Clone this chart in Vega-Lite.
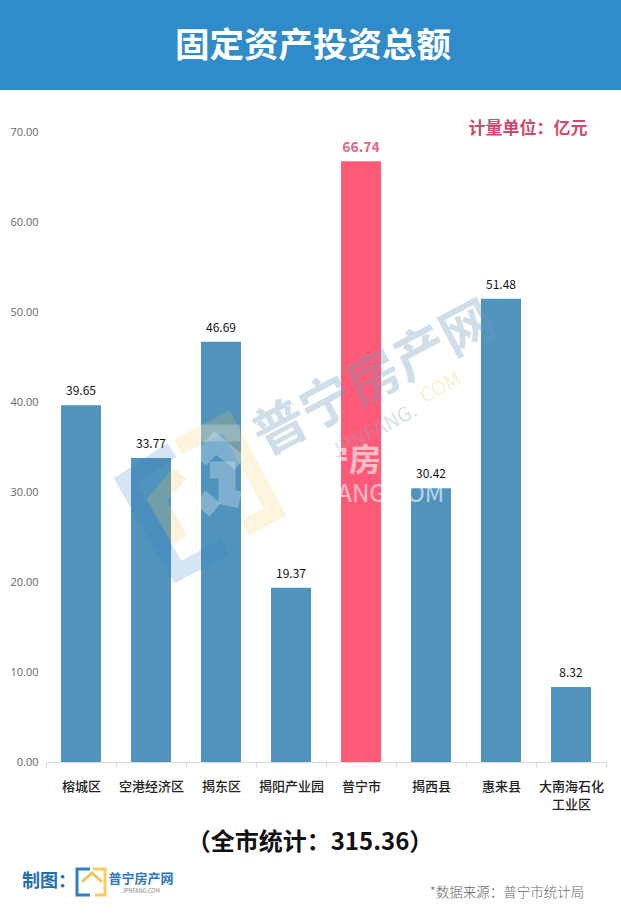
{"$schema":"https://vega.github.io/schema/vega-lite/v6.json","width":560,"height":630,"autosize":{"type":"none"},"padding":{"left":46,"top":132,"right":15,"bottom":161},"background":"white","config":{"view":{"stroke":null},"font":"Noto Sans CJK SC"},"datasets":{"bars":[{"区域":"榕城区","金额":39.65},{"区域":"空港经济区","金额":33.77},{"区域":"揭东区","金额":46.69},{"区域":"揭阳产业园","金额":19.37},{"区域":"普宁市","金额":66.74},{"区域":"揭西县","金额":30.42},{"区域":"惠来县","金额":51.48},{"区域":"大南海石化工业区","金额":8.32}],"one":[{"n":1}],"mark":[{"part":"蓝框","n":1,"wx":126,"wy":34.67},{"part":"蓝框","n":2,"wx":79,"wy":31.22},{"part":"蓝框","n":3,"wx":132,"wy":21.11},{"part":"蓝框","n":4,"wx":179,"wy":23.89},{"part":"黄框","n":1,"wx":132,"wy":35},{"part":"黄框","n":2,"wx":180,"wy":37.78},{"part":"黄框","n":3,"wx":229,"wy":27.78},{"part":"黄框","n":4,"wx":199,"wy":26},{"part":"内框","n":1,"wx":134,"wy":32.11},{"part":"内框","n":2,"wx":111,"wy":29.11},{"part":"内框","n":3,"wx":134,"wy":24.67},{"part":"白顶","n":1,"wx":154,"wy":36.56},{"part":"白顶","n":2,"wx":194,"wy":36.56},{"part":"白屋","n":1,"wx":154,"wy":33.56},{"part":"白屋","n":2,"wx":169,"wy":35.44},{"part":"白屋","n":3,"wx":194,"wy":33.22},{"part":"白门","n":1,"wx":164,"wy":32.44},{"part":"白门","n":2,"wx":181,"wy":32.44},{"part":"白门","n":3,"wx":181,"wy":29.44},{"part":"白门","n":4,"wx":194,"wy":29.11},{"part":"白底","n":1,"wx":154,"wy":29.44},{"part":"白底","n":2,"wx":169,"wy":28}],"logo":[{"part":"蓝","n":1,"wx":44,"wy":-11.89},{"part":"蓝","n":2,"wx":31,"wy":-11.89},{"part":"蓝","n":3,"wx":31,"wy":-14.78},{"part":"蓝","n":4,"wx":44,"wy":-14.78},{"part":"黄","n":1,"wx":47,"wy":-11.89},{"part":"黄","n":2,"wx":59,"wy":-11.89},{"part":"黄","n":3,"wx":59,"wy":-14.78},{"part":"黄","n":4,"wx":49,"wy":-14.78},{"part":"屋","n":1,"wx":36,"wy":-13.33},{"part":"屋","n":2,"wx":46,"wy":-12.33},{"part":"屋","n":3,"wx":56,"wy":-13.33},{"part":"门","n":1,"wx":42,"wy":-14.44},{"part":"门","n":2,"wx":42,"wy":-13.33},{"part":"门","n":3,"wx":50,"wy":-13.33},{"part":"门","n":4,"wx":50,"wy":-14.11}]},"data":{"name":"bars"},"resolve":{"scale":{"x":"independent"}},"layer":[{"data":{"name":"one"},"mark":{"type":"rect","color":"#2f8bca"},"encoding":{"x":{"datum":-46,"type":"quantitative","scale":{"domain":[0,560]},"axis":null},"x2":{"datum":575},"y":{"datum":74.67,"type":"quantitative"},"y2":{"datum":84.67}}},{"mark":{"type":"bar","width":40},"encoding":{"x":{"field":"区域","type":"nominal","sort":null,"scale":{"domain":["榕城区","空港经济区","揭东区","揭阳产业园","普宁市","揭西县","惠来县","大南海石化工业区"],"paddingInner":0,"paddingOuter":0},"axis":{"title":null,"labelAngle":0,"labelFontSize":13,"labelFontWeight":500,"labelColor":"#222","labelPadding":13,"labelLimit":200,"labelLineHeight":18,"domainColor":"#d9d9d9","tickColor":"#d9d9d9","tickSize":5,"tickBand":"extent","labelBaseline":"top","labelExpr":"datum.label === '大南海石化工业区' ? ['大南海石化','工业区'] : datum.label"}},"y":{"field":"金额","type":"quantitative","scale":{"domain":[0,70],"nice":false},"axis":{"title":null,"values":[0,10,20,30,40,50,60,70],"format":".2f","grid":false,"domain":false,"ticks":false,"labelFont":"Open Sans","labelFontSize":11,"labelColor":"#666","labelPadding":8}},"color":{"condition":{"test":"datum['区域'] === '普宁市'","value":"#ff5a78"},"value":"#5093bc"}}},{"transform":[{"filter":"datum['区域'] !== '普宁市'"}],"mark":{"type":"text","baseline":"bottom","dy":-7,"font":"Noto Sans CJK SC","fontSize":12,"color":"#111"},"encoding":{"x":{"field":"区域","type":"nominal","sort":null,"scale":{"domain":["榕城区","空港经济区","揭东区","揭阳产业园","普宁市","揭西县","惠来县","大南海石化工业区"],"paddingInner":0,"paddingOuter":0},"axis":null},"y":{"field":"金额","type":"quantitative"},"text":{"field":"金额","type":"quantitative","format":".2f"}}},{"transform":[{"filter":"datum['区域'] === '普宁市'"}],"mark":{"type":"text","baseline":"bottom","dy":-6,"fontSize":14,"fontWeight":"bold","color":"#e0668a"},"encoding":{"x":{"field":"区域","type":"nominal","sort":null,"scale":{"domain":["榕城区","空港经济区","揭东区","揭阳产业园","普宁市","揭西县","惠来县","大南海石化工业区"],"paddingInner":0,"paddingOuter":0},"axis":null},"y":{"field":"金额","type":"quantitative"},"text":{"field":"金额","type":"quantitative","format":".2f"}}},{"data":{"name":"mark"},"mark":{"type":"line","strokeWidth":17,"strokeCap":"butt","strokeJoin":"miter"},"encoding":{"x":{"field":"wx","type":"quantitative","scale":{"domain":[0,560]},"axis":null},"y":{"field":"wy","type":"quantitative"},"detail":{"field":"part"},"order":{"field":"n"},"color":{"field":"part","type":"nominal","legend":null,"scale":{"domain":["蓝框","黄框","内框","白顶","白屋","白门","白底"],"range":["#2f7fc1","#f7cd5e","#e8c860","#ffffff","#ffffff","#ffffff","#ffffff"]}},"opacity":{"field":"part","type":"nominal","legend":null,"scale":{"domain":["蓝框","黄框","内框","白顶","白屋","白门","白底"],"range":[0.2,0.28,0.22,0.55,0.55,0.55,0.55]}}}},{"data":{"name":"one"},"mark":{"type":"text","fontSize":53,"fontWeight":"bold","angle":332,"color":"#6f9cbd","opacity":0.32,"text":"普宁房产网"},"encoding":{"x":{"datum":329,"type":"quantitative","scale":{"domain":[0,560]},"axis":null},"y":{"datum":42.44,"type":"quantitative"}}},{"data":{"name":"one"},"mark":{"type":"text","fontSize":20,"angle":332,"color":"#8aa9c2","opacity":0.35,"text":"JPNFANG."},"encoding":{"x":{"datum":328,"type":"quantitative","scale":{"domain":[0,560]},"axis":null},"y":{"datum":36.67,"type":"quantitative"}}},{"data":{"name":"one"},"mark":{"type":"text","fontSize":20,"angle":332,"color":"#f5dc8c","opacity":0.4,"text":"COM"},"encoding":{"x":{"datum":395,"type":"quantitative","scale":{"domain":[0,560]},"axis":null},"y":{"datum":41.56,"type":"quantitative"}}},{"data":{"name":"one"},"mark":{"type":"text","fontSize":32,"fontWeight":"bold","color":"#ffffff","opacity":0.6,"text":"宁房"},"encoding":{"x":{"datum":303,"type":"quantitative","scale":{"domain":[0,560]},"axis":null},"y":{"datum":33.44,"type":"quantitative"}}},{"data":{"name":"one"},"mark":{"type":"text","fontSize":24,"color":"#ffffff","opacity":0.6,"text":"JPNFANG.COM"},"encoding":{"x":{"datum":316,"type":"quantitative","scale":{"domain":[0,560]},"axis":null},"y":{"datum":29.67,"type":"quantitative"}}},{"data":{"name":"one"},"mark":{"type":"text","fontSize":34.5,"fontWeight":"bold","color":"#ffffff","text":"固定资产投资总额"},"encoding":{"x":{"datum":267,"type":"quantitative","scale":{"domain":[0,560]},"axis":null},"y":{"datum":79.45,"type":"quantitative"}}},{"data":{"name":"one"},"mark":{"type":"text","fontSize":17,"fontWeight":"bold","color":"#d0496a","text":"计量单位：亿元"},"encoding":{"x":{"datum":482,"type":"quantitative","scale":{"domain":[0,560]},"axis":null},"y":{"datum":70.33,"type":"quantitative"}}},{"data":{"name":"one"},"mark":{"type":"text","fontSize":24,"fontWeight":"bold","color":"#111","text":"（全市统计：315.36）"},"encoding":{"x":{"datum":264,"type":"quantitative","scale":{"domain":[0,560]},"axis":null},"y":{"datum":-9,"type":"quantitative"}}},{"data":{"name":"one"},"mark":{"type":"text","align":"left","fontSize":18,"fontWeight":"bold","color":"#1f6fb0","text":"制图："},"encoding":{"x":{"datum":-24,"type":"quantitative","scale":{"domain":[0,560]},"axis":null},"y":{"datum":-13.33,"type":"quantitative"}}},{"data":{"name":"logo"},"mark":{"type":"line","strokeWidth":3,"strokeCap":"butt","strokeJoin":"miter"},"encoding":{"x":{"field":"wx","type":"quantitative","scale":{"domain":[0,560]},"axis":null},"y":{"field":"wy","type":"quantitative"},"detail":{"field":"part"},"order":{"field":"n"},"color":{"field":"part","type":"nominal","legend":null,"scale":{"domain":["蓝","黄","屋","门"],"range":["#1f6fb0","#f2b93b","#e3a93a","#1f6fb0"]}}}},{"data":{"name":"one"},"mark":{"type":"text","fontSize":13,"fontWeight":"bold","color":"#2a78bd","text":"普宁房产网"},"encoding":{"x":{"datum":95,"type":"quantitative","scale":{"domain":[0,560]},"axis":null},"y":{"datum":-13,"type":"quantitative"}}},{"data":{"name":"one"},"mark":{"type":"text","fontSize":5.5,"color":"#888","text":"JPNFANG.COM"},"encoding":{"x":{"datum":95,"type":"quantitative","scale":{"domain":[0,560]},"axis":null},"y":{"datum":-14.33,"type":"quantitative"}}},{"data":{"name":"one"},"mark":{"type":"text","fontSize":13.5,"fontWeight":300,"color":"#666","text":"*数据来源：普宁市统计局"},"encoding":{"x":{"datum":461,"type":"quantitative","scale":{"domain":[0,560]},"axis":null},"y":{"datum":-14.56,"type":"quantitative"}}}]}
